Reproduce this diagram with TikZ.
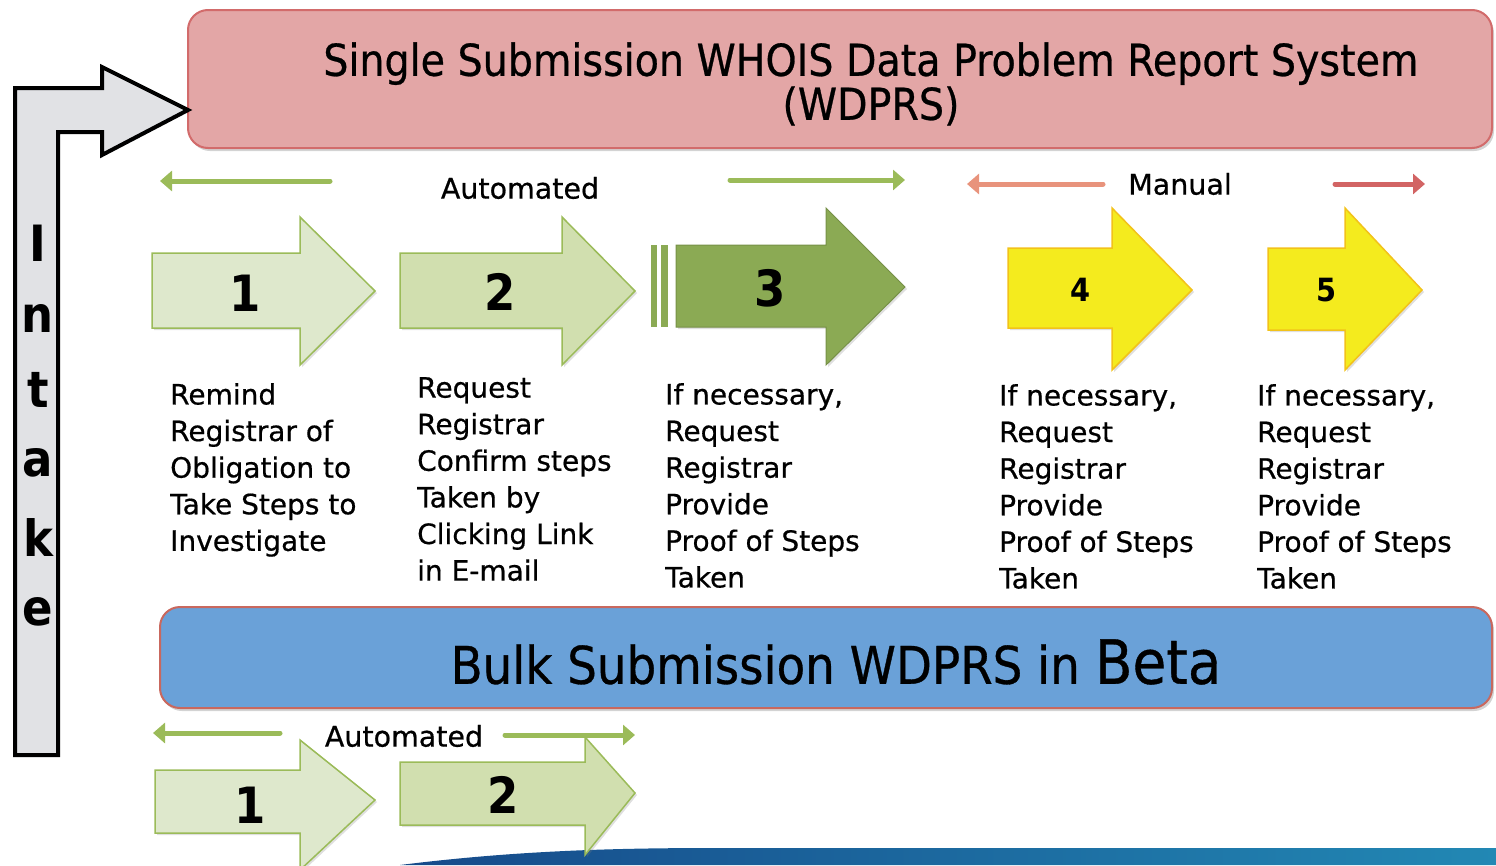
\documentclass[tikz,border=0pt]{standalone}
\usepackage{fontspec}
\setmainfont{DejaVu Sans Condensed}
\newfontfamily\widefont{DejaVu Sans}[FakeBold=0.6]
\newfontfamily\condfont{DejaVu Sans Condensed}[FakeBold=0.6]
\usetikzlibrary{shadows,arrows.meta}
\definecolor{pinkfill}{HTML}{E3A6A6}
\definecolor{pinkdraw}{HTML}{D26B6B}
\definecolor{bluefill}{HTML}{6AA1D8}
\definecolor{bluedraw}{HTML}{C9685E}
\definecolor{gfillA}{HTML}{DEE8CC}
\definecolor{gfillB}{HTML}{D1DFAF}
\definecolor{gfillC}{HTML}{8BAA54}
\definecolor{gline}{HTML}{9BBB59}
\definecolor{yfill}{HTML}{F4EB1E}
\definecolor{ydraw}{HTML}{F2C21A}
\definecolor{igray}{HTML}{E1E2E5}
\definecolor{salmon}{HTML}{E8937C}
\definecolor{redarr}{HTML}{D26464}
\definecolor{stripA}{HTML}{164A8A}
\definecolor{stripB}{HTML}{2288B4}
\tikzset{
  box/.style={rounded corners=20pt, line width=2pt, drop shadow={shadow xshift=2pt, shadow yshift=-3pt, opacity=0.35}},
  garrowA/.style={fill=gfillA, draw=gline, line width=1.5pt, drop shadow={shadow xshift=2pt, shadow yshift=-2pt, opacity=0.25}},
  garrowB/.style={fill=gfillB, draw=gline, line width=1.5pt, drop shadow={shadow xshift=2pt, shadow yshift=-2pt, opacity=0.25}},
  garrowC/.style={fill=gfillC, draw=gfillC!85!black, line width=1pt, drop shadow={shadow xshift=2pt, shadow yshift=-2pt, opacity=0.25}},
  yarrow/.style={fill=yfill, draw=ydraw, line width=1.5pt, drop shadow={shadow xshift=2pt, shadow yshift=-2pt, opacity=0.25}},
  num/.style={font=\fontsize{50}{50}\selectfont\bfseries, inner sep=0pt},
  smallnum/.style={font=\fontsize{32}{32}\selectfont\bfseries, inner sep=0pt},
  desc/.style={font=\widefont\fontsize{28}{36.6}\selectfont, align=left, anchor=north west, inner sep=0pt},
  label/.style={font=\widefont\fontsize{28.5}{28.5}\selectfont, inner sep=0pt},
  flow/.style={line width=5pt, -{Triangle[length=12pt,width=20pt]}, line cap=round},
  intk/.style={font=\fontsize{50}{50}\selectfont\bfseries, inner sep=0pt}
}
\begin{document}
\begin{tikzpicture}[x=1pt,y=-1pt]
\useasboundingbox (0,0) rectangle (1496,865);
% bottom decorative strip
\shade[left color=stripA, right color=stripB] (400,865) .. controls (520,850) and (620,848) .. (720,848) -- (1496,848) -- (1496,865) -- cycle;
% top box
\draw[box, fill=pinkfill, draw=pinkdraw] (188,10) rectangle (1492,148);
\node[font=\condfont\fontsize{44}{44}\selectfont, align=center, inner sep=0pt] (title) at (871,84) {Single Submission WHOIS Data Problem Report System\\(WDPRS)};
% intake arrow
\draw[fill=igray, draw=black, line width=4pt, line join=miter] (15,755) -- (15,88) -- (102,88) -- (102,67) -- (188,110) -- (102,155) -- (102,132) -- (58,132) -- (58,755) -- cycle;
\node[intk] (i1) at (38,243) {I};
\node[intk] (i2) at (38,318) {n};
\node[intk] (i3) at (38,390) {t};
\node[intk] (i4) at (38,463) {a};
\node[intk] (i5) at (38,537) {k};
\node[intk] (i6) at (38,612) {e};
% automated labels
\node[label] (auto) at (520,188) {Automated};
\coordinate (aL0) at (330,181); \coordinate (aL1) at (160,181);
\coordinate (aR0) at (730,180); \coordinate (aR1) at (905,180);
\draw[flow, draw=gline] (aL0) -- (aL1);
\draw[flow, draw=gline] (aR0) -- (aR1);
\node[label] (manual) at (1180,184) {Manual};
\coordinate (mL0) at (1103,184); \coordinate (mL1) at (967,184);
\coordinate (mR0) at (1335,184); \coordinate (mR1) at (1425,184);
\draw[flow, draw=salmon] (mL0) -- (mL1);
\draw[flow, draw=redarr] (mR0) -- (mR1);
% step arrows
\draw[garrowA] (152,253) -- (300,253) -- (300,217) -- (375,291) -- (300,365) -- (300,328) -- (152,328) -- cycle;
\node[num] (s1) at (245,293) {1};
\draw[garrowB] (400,253) -- (562,253) -- (562,217) -- (635,291) -- (562,365) -- (562,328) -- (400,328) -- cycle;
\node[num] (s2) at (500,292) {2};
\fill[gfillC] (651,245) rectangle (657,327);
\fill[gfillC] (661,245) rectangle (668,327);
\draw[garrowC] (676,245) -- (826,245) -- (826,208) -- (905,287) -- (826,365) -- (826,327) -- (676,327) -- cycle;
\node[num] (s3) at (770,288) {3};
\draw[yarrow] (1008,248) -- (1112,248) -- (1112,208) -- (1192,290) -- (1112,370) -- (1112,328) -- (1008,328) -- cycle;
\node[smallnum] (s4) at (1081,290) {4};
\draw[yarrow] (1268,248) -- (1345,248) -- (1345,208) -- (1422,290) -- (1345,370) -- (1345,330) -- (1268,330) -- cycle;
\node[smallnum] (s5) at (1326,290) {5};
% descriptions
\node[desc] (d1) at (170,383) {Remind\\Registrar of\\Obligation to\\Take Steps to\\Investigate};
\node[desc] (d2) at (417,377) {Request\\Registrar\\Confirm steps\\Taken by\\Clicking Link\\in E-mail};
\node[desc] (d3) at (665,383) {If necessary,\\Request\\Registrar\\Provide\\Proof of Steps\\Taken};
\node[desc] (d4) at (999,384) {If necessary,\\Request\\Registrar\\Provide\\Proof of Steps\\Taken};
\node[desc] (d5) at (1257,384) {If necessary,\\Request\\Registrar\\Provide\\Proof of Steps\\Taken};
% bulk box
\draw[box, fill=bluefill, draw=bluedraw] (160,607) rectangle (1492,708);
\node[font=\condfont\fontsize{52}{52}\selectfont, inner sep=0pt] (bulk) at (836,662) {Bulk Submission WDPRS in {\fontsize{61}{61}\selectfont Beta}};
% bottom automated
\node[label] (auto2) at (404,736) {Automated};
\coordinate (bL0) at (280,733); \coordinate (bL1) at (153,733);
\coordinate (bR0) at (505,735); \coordinate (bR1) at (635,735);
\draw[flow, draw=gline] (bL0) -- (bL1);
\draw[flow, draw=gline] (bR0) -- (bR1);
\draw[garrowA] (155,770) -- (300,770) -- (300,740) -- (375,800) -- (300,870) -- (300,833) -- (155,833) -- cycle;
\node[num] (b1) at (250,805) {1};
\draw[garrowB] (400,762) -- (585,762) -- (585,737) -- (635,793) -- (585,855) -- (585,825) -- (400,825) -- cycle;
\node[num] (b2) at (503,795) {2};
\end{tikzpicture}
\end{document}
